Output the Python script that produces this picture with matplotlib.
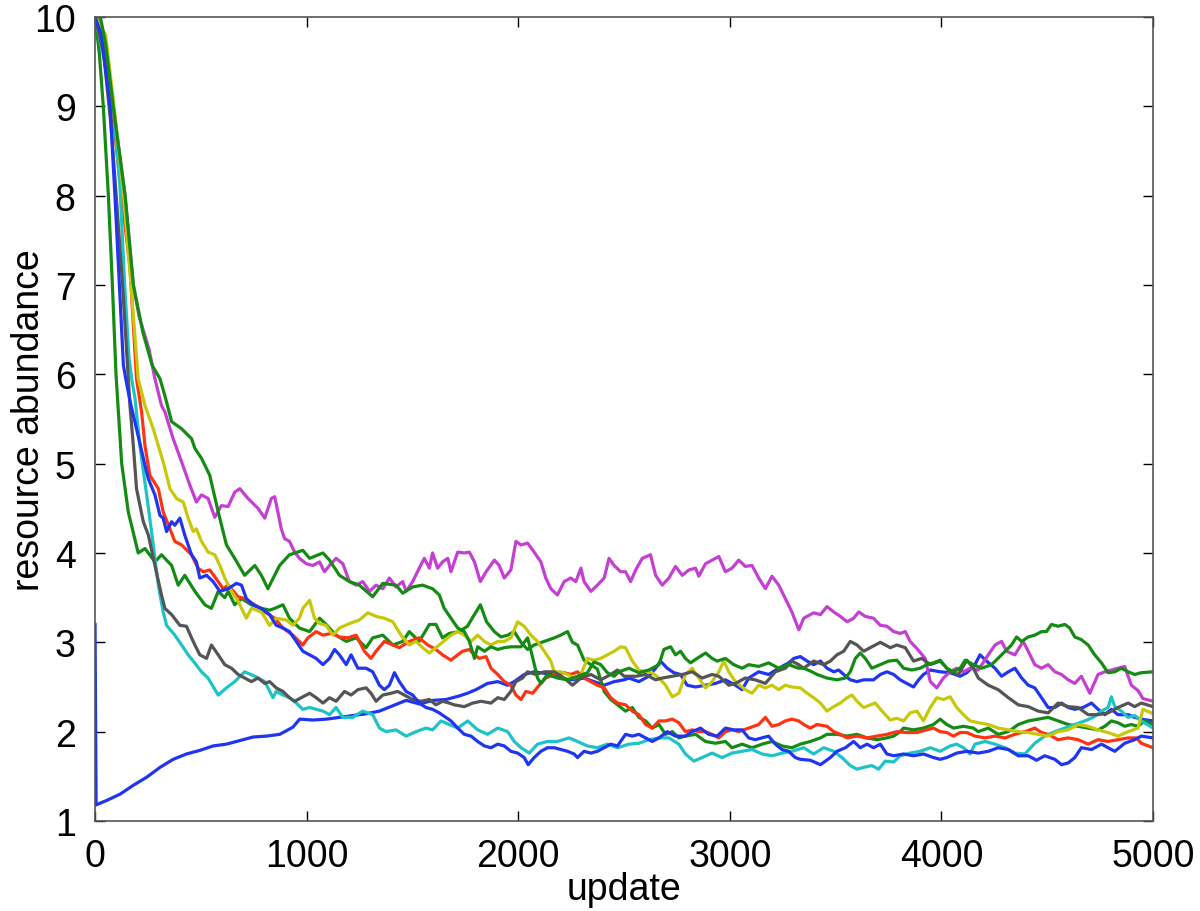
import matplotlib
matplotlib.use('Agg')
import matplotlib.pyplot as plt

# run 1 (blue, rises from the low start)
blue_a_x = [0, 5, 55, 118, 181, 244, 307, 369, 432, 495, 558, 621, 684, 747, 810, 873, 935, 967, 1030, 1093,
            1156, 1218, 1281, 1344, 1407, 1470, 1533, 1596, 1659, 1722, 1760, 1800, 1855, 1903, 1950, 1981, 2028,
            2075, 2107, 2154, 2201, 2248, 2311, 2358, 2406, 2453, 2500, 2523, 2570, 2617, 2649, 2672, 2704, 2735,
            2767, 2798, 2838, 2885, 2932, 2979, 3026, 3058, 3089, 3136, 3183, 3231, 3278, 3302, 3333, 3365, 3396,
            3428, 3459, 3491, 3514, 3538, 3569, 3601, 3632, 3679, 3711, 3742, 3774, 3805, 3836, 3868, 3892, 3915,
            3947, 3994, 4041, 4088, 4120, 4158, 4182, 4213, 4253, 4284, 4316, 4347, 4379, 4410, 4441, 4473, 4504,
            4536, 4567, 4599, 4630, 4669, 4709, 4740, 4772, 4803, 4834, 4882, 4913, 4944, 5000]
blue_a_y = [3.2, 1.18, 1.23, 1.30, 1.40, 1.49, 1.60, 1.69, 1.75, 1.79, 1.84, 1.86, 1.90, 1.94, 1.95, 1.97, 2.05, 2.14,
            2.13, 2.14, 2.16, 2.18, 2.20, 2.23, 2.29, 2.35, 2.31, 2.35, 2.36, 2.40, 2.43, 2.47, 2.54, 2.56, 2.52,
            2.56, 2.64, 2.67, 2.66, 2.64, 2.60, 2.58, 2.60, 2.56, 2.52, 2.56, 2.58, 2.60, 2.56, 2.62, 2.71, 2.79,
            2.71, 2.66, 2.64, 2.52, 2.50, 2.52, 2.54, 2.58, 2.52, 2.47, 2.60, 2.67, 2.64, 2.71, 2.77, 2.82, 2.84,
            2.79, 2.75, 2.79, 2.71, 2.67, 2.69, 2.64, 2.58, 2.56, 2.58, 2.58, 2.64, 2.67, 2.64, 2.58, 2.54, 2.50,
            2.58, 2.64, 2.69, 2.67, 2.66, 2.62, 2.66, 2.75, 2.86, 2.79, 2.71, 2.62, 2.67, 2.71, 2.60, 2.52, 2.49,
            2.38, 2.27, 2.27, 2.32, 2.27, 2.25, 2.27, 2.32, 2.25, 2.19, 2.25, 2.19, 2.19, 2.16, 2.14, 2.12]

# run 2 (green, fastest early drop)
green_a_x = [0, 20, 39, 63, 82, 99, 126, 157, 204, 236, 283, 314, 362, 393, 424, 472, 519, 550, 582, 613, 629, 660,
             692, 739, 786, 825, 849, 888, 919, 966, 1014, 1061, 1092, 1139, 1187, 1234, 1281, 1312, 1360, 1407,
             1454, 1485, 1532, 1580, 1611, 1642, 1674, 1720, 1760, 1790, 1821, 1850, 1887, 1918, 1950, 1981, 2013,
             2044, 2075, 2123, 2170, 2200, 2233, 2256, 2280, 2311, 2343, 2374, 2406, 2437, 2469, 2507, 2539, 2570,
             2602, 2633, 2665, 2696, 2728, 2759, 2790, 2838, 2885, 2932, 2979, 3010, 3058, 3105, 3152, 3199, 3246,
             3293, 3333, 3380, 3428, 3459, 3506, 3554, 3601, 3648, 3695, 3742, 3774, 3805, 3821, 3868, 3915, 3962,
             3994, 4025, 4057, 4104, 4151, 4174, 4221, 4268, 4316, 4363, 4410, 4457, 4504, 4551, 4599, 4646, 4693,
             4740, 4772, 4803, 4834, 4866, 4897, 4929, 4960, 5000]
green_a_y = [10.0, 9.6, 9.0, 8.0, 7.0, 6.0, 5.0, 4.46, 4.0, 4.05, 3.90, 3.98, 3.86, 3.64, 3.75, 3.57, 3.42, 3.38,
             3.57, 3.50, 3.57, 3.42, 3.49, 3.42, 3.38, 3.36, 3.38, 3.42, 3.27, 3.16, 3.12, 3.27, 3.20, 3.08, 3.01,
             3.05, 2.94, 3.05, 3.08, 2.97, 3.01, 3.12, 3.01, 3.20, 3.20, 3.05, 3.10, 3.12, 3.18, 3.30, 3.42, 3.23,
             3.12, 3.06, 3.08, 3.12, 3.00, 2.92, 2.97, 3.01, 3.05, 3.08, 3.12, 3.00, 2.97, 2.80, 2.75, 2.70, 2.45,
             2.36, 2.30, 2.23, 2.27, 2.16, 2.12, 2.04, 2.08, 1.97, 2.00, 1.93, 1.95, 1.97, 1.89, 1.87, 1.89, 1.82,
             1.86, 1.82, 1.86, 1.89, 1.84, 1.82, 1.86, 1.89, 1.93, 1.97, 1.97, 1.95, 1.97, 1.93, 1.91, 1.93, 1.95,
             2.00, 2.04, 2.02, 2.04, 2.08, 2.14, 2.08, 2.04, 2.06, 2.04, 2.00, 2.04, 1.97, 2.00, 2.08, 2.12, 2.14,
             2.16, 2.12, 2.08, 2.06, 2.04, 2.02, 2.06, 2.12, 2.10, 2.06, 2.08, 2.06, 2.12, 2.08]

# run 3 (red)
red_x = [0, 30, 80, 125, 165, 196, 220, 236, 259, 299, 322, 354, 377, 409, 456, 487, 511, 542, 582, 605, 629, 676,
         707, 755, 802, 849, 888, 935, 982, 1006, 1045, 1077, 1116, 1155, 1194, 1234, 1273, 1304, 1328, 1367, 1407,
         1438, 1485, 1532, 1572, 1611, 1642, 1682, 1714, 1737, 1769, 1793, 1816, 1848, 1871, 1903, 1934, 1965, 1989,
         2013, 2036, 2068, 2099, 2130, 2170, 2217, 2248, 2280, 2311, 2343, 2374, 2406, 2437, 2469, 2507, 2539, 2570,
         2602, 2633, 2665, 2696, 2728, 2759, 2790, 2822, 2853, 2885, 2916, 2948, 2979, 3010, 3042, 3089, 3136, 3168,
         3199, 3231, 3262, 3293, 3325, 3349, 3380, 3412, 3459, 3491, 3522, 3554, 3601, 3648, 3695, 3742, 3789, 3836,
         3884, 3931, 3962, 3994, 4025, 4057, 4088, 4120, 4158, 4206, 4253, 4300, 4347, 4394, 4441, 4473, 4504, 4551,
         4599, 4646, 4693, 4740, 4787, 4834, 4882, 4921, 4944, 5000]
red_y = [10.0, 9.9, 9.0, 8.0, 7.2, 5.95, 5.58, 5.20, 4.87, 4.72, 4.46, 4.27, 4.13, 4.09, 3.98, 3.83, 3.79, 3.81, 3.68,
         3.60, 3.64, 3.51, 3.49, 3.42, 3.34, 3.27, 3.16, 3.08, 2.97, 3.05, 3.12, 3.08, 3.10, 3.06, 3.05, 3.08, 2.90,
         2.82, 2.90, 3.01, 2.97, 2.94, 3.01, 3.05, 2.97, 2.92, 2.86, 2.80, 2.86, 2.90, 2.92, 2.86, 2.82, 2.84, 2.71,
         2.64, 2.56, 2.52, 2.41, 2.36, 2.45, 2.43, 2.52, 2.60, 2.64, 2.66, 2.64, 2.67, 2.60, 2.56, 2.52, 2.49, 2.38,
         2.32, 2.30, 2.23, 2.19, 2.08, 2.04, 2.12, 2.12, 2.14, 2.10, 2.00, 2.02, 2.00, 2.00, 1.97, 1.93, 2.00, 2.02,
         2.00, 2.04, 2.08, 2.16, 2.06, 2.08, 2.12, 2.14, 2.12, 2.08, 2.04, 2.08, 2.06, 2.00, 1.97, 1.93, 1.95, 1.93,
         1.95, 1.97, 2.00, 1.99, 1.99, 2.02, 2.04, 2.00, 1.99, 1.95, 1.99, 1.99, 1.95, 1.93, 1.95, 1.93, 1.97, 2.00,
         2.04, 1.99, 1.97, 1.91, 1.93, 1.91, 1.86, 1.91, 1.89, 1.91, 1.93, 1.93, 1.87, 1.82]

# run 4 (cyan)
cyan_x = [0, 45, 86, 118, 140, 160, 173, 189, 212, 244, 267, 283, 299, 322, 338, 377, 409, 440, 464, 503, 534, 582,
          621, 660, 707, 755, 802, 841, 856, 888, 919, 951, 982, 1014, 1045, 1077, 1108, 1139, 1171, 1218, 1265, 1312,
          1344, 1375, 1422, 1470, 1517, 1564, 1595, 1635, 1674, 1714, 1761, 1808, 1855, 1903, 1950, 1981, 2013, 2052,
          2091, 2138, 2185, 2240, 2280, 2327, 2374, 2421, 2469, 2523, 2570, 2617, 2665, 2712, 2759, 2790, 2830, 2869,
          2916, 2963, 3010, 3058, 3105, 3152, 3199, 3246, 3293, 3349, 3396, 3443, 3491, 3530, 3569, 3601, 3632, 3671,
          3703, 3734, 3774, 3805, 3852, 3899, 3947, 3994, 4041, 4072, 4104, 4135, 4158, 4206, 4253, 4300, 4347, 4394,
          4441, 4488, 4536, 4583, 4630, 4677, 4717, 4756, 4787, 4803, 4819, 4850, 4882, 4913, 4944, 5000]
cyan_y = [10.0, 9.5, 9.0, 8.1, 7.0, 6.2, 5.95, 5.73, 5.20, 4.65, 4.24, 3.94, 3.64, 3.34, 3.19, 3.08, 2.97, 2.86, 2.79,
          2.67, 2.60, 2.41, 2.49, 2.56, 2.67, 2.62, 2.56, 2.38, 2.45, 2.41, 2.38, 2.32, 2.25, 2.27, 2.25, 2.23, 2.19,
          2.27, 2.16, 2.16, 2.23, 2.19, 2.04, 2.00, 2.02, 1.95, 2.00, 2.04, 2.02, 2.12, 2.08, 2.04, 2.12, 2.02, 1.97,
          2.04, 2.00, 1.89, 1.82, 1.76, 1.86, 1.89, 1.89, 1.93, 1.89, 1.84, 1.82, 1.86, 1.82, 1.86, 1.87, 1.91, 1.93,
          1.93, 1.86, 1.75, 1.67, 1.71, 1.76, 1.71, 1.76, 1.78, 1.80, 1.75, 1.73, 1.76, 1.78, 1.82, 1.75, 1.82, 1.78,
          1.71, 1.62, 1.58, 1.60, 1.62, 1.58, 1.67, 1.66, 1.73, 1.76, 1.78, 1.82, 1.78, 1.84, 1.86, 1.82, 1.75, 1.86,
          1.89, 1.86, 1.82, 1.76, 1.75, 1.87, 1.95, 2.00, 2.04, 2.08, 2.12, 2.16, 2.23, 2.27, 2.39, 2.28, 2.23, 2.16,
          2.18, 2.12, 2.04]

# run 5 (magenta)
magenta_x = [0, 30, 86, 142, 181, 208, 255, 283, 314, 330, 369, 409, 448, 479, 503, 534, 566, 597, 629, 660, 684, 723,
             770, 802, 833, 849, 864, 880, 896, 919, 943, 966, 998, 1029, 1061, 1084, 1108, 1139, 1171, 1202, 1234,
             1265, 1297, 1328, 1360, 1391, 1422, 1454, 1470, 1501, 1532, 1556, 1580, 1595, 1619, 1642, 1667, 1682,
             1714, 1745, 1769, 1793, 1821, 1848, 1887, 1910, 1934, 1965, 1989, 2013, 2044, 2075, 2107, 2130, 2154,
             2185, 2217, 2248, 2272, 2296, 2311, 2343, 2374, 2406, 2429, 2453, 2484, 2507, 2531, 2555, 2586, 2625,
             2649, 2680, 2712, 2743, 2775, 2806, 2838, 2853, 2885, 2916, 2948, 2979, 3010, 3042, 3073, 3105, 3136,
             3168, 3199, 3231, 3262, 3293, 3326, 3349, 3396, 3428, 3459, 3491, 3522, 3554, 3585, 3609, 3640, 3679,
             3711, 3742, 3774, 3805, 3829, 3852, 3884, 3923, 3947, 3978, 4009, 4041, 4072, 4104, 4135, 4174, 4221,
             4253, 4284, 4308, 4347, 4386, 4410, 4441, 4473, 4504, 4536, 4567, 4599, 4630, 4661, 4701, 4740, 4772,
             4803, 4834, 4866, 4897, 4929, 4952, 5000]
magenta_y = [10.0, 9.9, 9.0, 8.0, 7.0, 6.65, 6.28, 5.95, 5.65, 5.58, 5.28, 5.02, 4.76, 4.57, 4.65, 4.61, 4.40, 4.53,
             4.52, 4.68, 4.72, 4.61, 4.50, 4.39, 4.61, 4.63, 4.46, 4.27, 4.16, 4.13, 4.01, 3.94, 3.88, 3.86, 3.90, 3.79,
             3.86, 3.94, 3.88, 3.68, 3.64, 3.68, 3.57, 3.64, 3.60, 3.72, 3.62, 3.68, 3.57, 3.68, 3.83, 3.94, 3.83, 4.00,
             3.83, 3.90, 3.94, 3.79, 4.01, 4.00, 4.01, 3.90, 3.68, 3.79, 3.92, 3.86, 3.72, 3.81, 4.13, 4.09, 4.11, 4.01,
             3.90, 3.72, 3.60, 3.53, 3.68, 3.72, 3.68, 3.83, 3.68, 3.57, 3.64, 3.72, 3.94, 3.86, 3.79, 3.79, 3.68, 3.81,
             3.94, 3.98, 3.75, 3.64, 3.72, 3.85, 3.75, 3.81, 3.83, 3.74, 3.88, 3.92, 3.96, 3.79, 3.83, 3.92, 3.85, 3.86,
             3.72, 3.60, 3.74, 3.64, 3.49, 3.34, 3.14, 3.27, 3.33, 3.31, 3.40, 3.34, 3.29, 3.23, 3.27, 3.34, 3.29, 3.27,
             3.19, 3.18, 3.12, 3.10, 3.12, 3.01, 2.93, 2.82, 2.56, 2.49, 2.60, 2.67, 2.71, 2.67, 2.71, 2.69, 2.86, 2.97,
             3.01, 2.90, 2.86, 3.01, 2.90, 2.75, 2.71, 2.75, 2.67, 2.64, 2.58, 2.54, 2.62, 2.43, 2.64, 2.67, 2.69, 2.71,
             2.73, 2.52, 2.46, 2.37, 2.34]

# run 6 (yellow)
yellow_x = [0, 50, 90, 135, 170, 204, 236, 275, 322, 354, 385, 417, 440, 464, 479, 503, 534, 566, 590, 613, 645, 676,
            715, 739, 786, 825, 856, 904, 935, 966, 982, 1014, 1037, 1061, 1092, 1124, 1155, 1202, 1249, 1289, 1328,
            1367, 1407, 1446, 1485, 1517, 1548, 1580, 1611, 1642, 1682, 1714, 1745, 1777, 1808, 1840, 1871, 1903, 1934,
            1965, 1997, 2028, 2060, 2091, 2123, 2154, 2170, 2201, 2233, 2264, 2296, 2327, 2358, 2390, 2421, 2453, 2484,
            2507, 2539, 2570, 2602, 2633, 2665, 2696, 2728, 2759, 2790, 2822, 2853, 2885, 2916, 2948, 2971, 2995, 3026,
            3073, 3105, 3136, 3168, 3199, 3231, 3262, 3293, 3333, 3365, 3396, 3428, 3459, 3491, 3522, 3554, 3577, 3601,
            3632, 3664, 3687, 3719, 3758, 3789, 3821, 3852, 3884, 3915, 3947, 3978, 4009, 4041, 4072, 4104, 4135, 4174,
            4221, 4268, 4316, 4363, 4410, 4457, 4504, 4551, 4599, 4646, 4693, 4740, 4787, 4834, 4882, 4929, 4952, 5000]
yellow_y = [10.0, 9.8, 9.0, 8.0, 7.0, 5.95, 5.65, 5.39, 5.02, 4.72, 4.61, 4.57, 4.39, 4.24, 4.27, 4.13, 4.01, 3.98, 3.86,
            3.72, 3.57, 3.46, 3.27, 3.38, 3.34, 3.19, 3.27, 3.25, 3.19, 3.27, 3.38, 3.47, 3.27, 3.21, 3.19, 3.08, 3.16,
            3.21, 3.25, 3.33, 3.29, 3.27, 3.23, 3.08, 2.97, 3.01, 2.94, 2.88, 2.94, 3.00, 3.08, 3.12, 3.08, 3.01, 3.08,
            3.01, 2.97, 3.01, 3.01, 3.05, 3.23, 3.18, 3.08, 3.01, 2.90, 2.79, 2.67, 2.67, 2.64, 2.60, 2.64, 2.82, 2.80,
            2.82, 2.86, 2.90, 2.95, 2.94, 2.79, 2.69, 2.67, 2.66, 2.60, 2.52, 2.39, 2.43, 2.64, 2.71, 2.60, 2.49, 2.56,
            2.67, 2.79, 2.67, 2.56, 2.47, 2.43, 2.52, 2.49, 2.52, 2.47, 2.52, 2.50, 2.49, 2.43, 2.38, 2.32, 2.23, 2.28,
            2.32, 2.38, 2.41, 2.34, 2.27, 2.30, 2.32, 2.23, 2.13, 2.15, 2.12, 2.21, 2.23, 2.12, 2.27, 2.38, 2.36, 2.39,
            2.27, 2.19, 2.12, 2.10, 2.08, 2.04, 2.02, 2.00, 1.99, 1.97, 1.95, 2.00, 2.02, 2.08, 2.06, 2.02, 1.99, 1.95,
            2.00, 2.04, 2.25, 2.20]

# run 7 (dark grey)
grey_x = [0, 40, 75, 100, 130, 157, 165, 181, 196, 228, 252, 283, 314, 330, 362, 401, 432, 456, 472, 495, 527, 550,
          582, 613, 645, 676, 707, 739, 770, 802, 825, 856, 888, 919, 943, 982, 1014, 1045, 1077, 1108, 1139, 1179,
          1210, 1242, 1281, 1304, 1328, 1360, 1399, 1430, 1462, 1501, 1540, 1580, 1611, 1642, 1674, 1698, 1745, 1785,
          1824, 1871, 1903, 1934, 1965, 1989, 2020, 2044, 2083, 2123, 2170, 2217, 2256, 2296, 2343, 2390, 2437, 2469,
          2500, 2555, 2602, 2649, 2680, 2728, 2775, 2822, 2869, 2916, 2948, 2995, 3026, 3073, 3120, 3168, 3215, 3262,
          3293, 3325, 3349, 3396, 3443, 3475, 3506, 3538, 3569, 3601, 3632, 3664, 3711, 3758, 3789, 3829, 3868, 3907,
          3947, 3994, 4041, 4080, 4120, 4151, 4174, 4221, 4268, 4316, 4363, 4410, 4457, 4504, 4551, 4599, 4646, 4693,
          4740, 4787, 4834, 4882, 4913, 4944, 5000]
grey_y = [10.0, 9.6, 8.8, 8.0, 7.0, 5.95, 5.65, 5.20, 4.72, 4.35, 4.20, 3.86, 3.53, 3.38, 3.31, 3.19, 3.18, 3.05, 2.97,
          2.86, 2.82, 2.97, 2.86, 2.75, 2.71, 2.64, 2.60, 2.56, 2.60, 2.54, 2.56, 2.49, 2.45, 2.38, 2.34, 2.39, 2.43,
          2.38, 2.32, 2.38, 2.34, 2.45, 2.41, 2.47, 2.49, 2.43, 2.34, 2.41, 2.43, 2.45, 2.41, 2.36, 2.34, 2.36, 2.30,
          2.34, 2.32, 2.30, 2.28, 2.32, 2.34, 2.32, 2.38, 2.36, 2.45, 2.56, 2.60, 2.67, 2.64, 2.67, 2.67, 2.60, 2.52,
          2.60, 2.64, 2.58, 2.64, 2.69, 2.62, 2.62, 2.64, 2.58, 2.60, 2.62, 2.64, 2.67, 2.60, 2.64, 2.62, 2.52, 2.54,
          2.60, 2.58, 2.54, 2.67, 2.71, 2.79, 2.75, 2.71, 2.79, 2.75, 2.79, 2.86, 2.90, 3.01, 2.97, 2.90, 2.94, 3.00,
          2.94, 2.97, 2.94, 2.79, 2.82, 2.75, 2.79, 2.67, 2.64, 2.80, 2.71, 2.60, 2.52, 2.47, 2.38, 2.30, 2.28, 2.23,
          2.21, 2.32, 2.28, 2.27, 2.19, 2.19, 2.21, 2.27, 2.32, 2.28, 2.32, 2.28]

# run 8 (blue, drops from 10)
blue_b_x = [0, 30, 71, 94, 115, 134, 149, 170, 196, 236, 252, 283, 307, 322, 338, 362, 377, 401, 424, 456, 479, 495,
            527, 558, 590, 629, 668, 692, 715, 747, 786, 825, 856, 888, 919, 951, 982, 1014, 1045, 1077, 1108, 1132,
            1155, 1187, 1210, 1242, 1281, 1312, 1344, 1367, 1391, 1415, 1438, 1470, 1501, 1532, 1564, 1595, 1627, 1658,
            1682, 1714, 1745, 1777, 1808, 1840, 1871, 1903, 1934, 1965, 1997, 2028, 2047, 2075, 2107, 2138, 2170, 2201,
            2233, 2264, 2280, 2311, 2343, 2374, 2406, 2437, 2469, 2507, 2539, 2570, 2602, 2633, 2665, 2704, 2743, 2790,
            2822, 2861, 2900, 2940, 2979, 3018, 3058, 3089, 3120, 3152, 3183, 3215, 3246, 3278, 3309, 3333, 3380, 3428,
            3475, 3506, 3546, 3585, 3616, 3648, 3679, 3711, 3742, 3774, 3821, 3868, 3915, 3962, 3994, 4025, 4072, 4120,
            4174, 4221, 4268, 4316, 4363, 4410, 4449, 4488, 4536, 4567, 4599, 4630, 4661, 4709, 4756, 4787, 4819, 4866,
            4913, 4944, 5000]
blue_b_y = [10.0, 9.8, 9.0, 8.0, 7.0, 6.1, 5.9, 5.65, 5.39, 4.98, 4.83, 4.65, 4.42, 4.39, 4.24, 4.35, 4.31, 4.39, 4.20,
            3.98, 3.90, 3.72, 3.75, 3.68, 3.57, 3.60, 3.66, 3.64, 3.49, 3.42, 3.38, 3.31, 3.19, 3.16, 3.12, 3.01, 2.90,
            2.86, 2.82, 2.75, 2.82, 2.92, 2.86, 2.75, 2.86, 2.71, 2.71, 2.67, 2.52, 2.47, 2.52, 2.66, 2.56, 2.45, 2.41,
            2.32, 2.27, 2.25, 2.21, 2.16, 2.12, 2.04, 1.97, 1.95, 1.89, 1.84, 1.82, 1.86, 1.84, 1.78, 1.76, 1.71, 1.63,
            1.71, 1.78, 1.82, 1.82, 1.80, 1.78, 1.75, 1.71, 1.78, 1.76, 1.78, 1.82, 1.86, 1.84, 1.97, 1.95, 1.97, 1.93,
            1.89, 1.93, 2.00, 1.95, 1.95, 2.00, 2.04, 1.97, 1.95, 2.04, 2.02, 2.02, 1.93, 1.91, 1.93, 1.95, 1.86, 1.80,
            1.78, 1.71, 1.69, 1.68, 1.63, 1.71, 1.78, 1.82, 1.89, 1.82, 1.86, 1.82, 1.86, 1.75, 1.73, 1.75, 1.73, 1.75,
            1.71, 1.69, 1.71, 1.76, 1.78, 1.76, 1.78, 1.82, 1.80, 1.73, 1.73, 1.68, 1.73, 1.69, 1.63, 1.65, 1.71, 1.82,
            1.80, 1.86, 1.82, 1.78, 1.87, 1.91, 1.95, 1.93]

# run 9 (green, slow early drop, late bump)
green_b_x = [0, 25, 50, 86, 142, 181, 226, 270, 307, 330, 362, 409, 456, 472, 503, 542, 582, 621, 660, 707, 755, 786,
             817, 872, 919, 982, 1014, 1077, 1108, 1155, 1202, 1249, 1312, 1360, 1422, 1454, 1501, 1548, 1595, 1627,
             1650, 1682, 1714, 1745, 1769, 1793, 1808, 1840, 1871, 1903, 1934, 1965, 2013, 2044, 2065, 2091, 2107,
             2138, 2185, 2233, 2280, 2327, 2358, 2390, 2421, 2453, 2476, 2523, 2570, 2617, 2665, 2688, 2720, 2743,
             2767, 2790, 2814, 2845, 2885, 2916, 2940, 2979, 3018, 3058, 3089, 3136, 3183, 3231, 3278, 3325, 3349,
             3388, 3412, 3459, 3506, 3546, 3569, 3593, 3616, 3640, 3671, 3711, 3750, 3789, 3821, 3860, 3899, 3931,
             3962, 3994, 4025, 4057, 4088, 4112, 4151, 4190, 4237, 4284, 4331, 4355, 4379, 4410, 4441, 4473, 4496,
             4520, 4551, 4583, 4606, 4630, 4661, 4693, 4724, 4756, 4787, 4819, 4850, 4882, 4913, 4944, 5000]
green_b_y = [10.0, 10.0, 9.7, 9.0, 8.0, 7.0, 6.47, 6.1, 5.95, 5.76, 5.47, 5.39, 5.28, 5.17, 5.06, 4.87, 4.46, 4.09,
             3.94, 3.75, 3.86, 3.75, 3.60, 3.86, 3.98, 4.03, 3.94, 4.00, 3.92, 3.75, 3.68, 3.64, 3.51, 3.66, 3.64, 3.55,
             3.62, 3.64, 3.60, 3.53, 3.38, 3.27, 3.16, 3.12, 3.01, 2.82, 2.95, 2.90, 2.95, 2.92, 2.94, 2.95, 2.95, 3.05,
             2.86, 2.60, 2.54, 2.64, 2.60, 2.58, 2.62, 2.66, 2.78, 2.75, 2.66, 2.62, 2.67, 2.71, 2.66, 2.69, 2.75, 2.92,
             2.95, 2.86, 2.90, 2.82, 2.77, 2.82, 2.88, 2.82, 2.79, 2.82, 2.75, 2.71, 2.75, 2.73, 2.77, 2.71, 2.75, 2.71,
             2.71, 2.67, 2.64, 2.60, 2.58, 2.60, 2.67, 2.82, 2.88, 2.82, 2.71, 2.75, 2.79, 2.80, 2.71, 2.69, 2.71, 2.75,
             2.77, 2.80, 2.71, 2.67, 2.71, 2.80, 2.75, 2.71, 2.75, 2.86, 2.97, 3.06, 3.01, 3.06, 3.08, 3.12, 3.12, 3.20,
             3.18, 3.20, 3.16, 3.06, 3.03, 2.97, 2.86, 2.77, 2.66, 2.67, 2.71, 2.67, 2.64, 2.66, 2.67]

runs = [
    (blue_a_x, blue_a_y, '#1f35f0'),
    (green_a_x, green_a_y, '#148c14'),
    (red_x, red_y, '#ff3312'),
    (cyan_x, cyan_y, '#1ec3c8'),
    (magenta_x, magenta_y, '#c43fd2'),
    (yellow_x, yellow_y, '#c8c80a'),
    (grey_x, grey_y, '#555555'),
    (blue_b_x, blue_b_y, '#1f35f0'),
    (green_b_x, green_b_y, '#148c14'),
]


def main():
    plt.rcParams['font.family'] = ['Liberation Sans', 'DejaVu Sans']
    fig = plt.figure(figsize=(12, 9.12), dpi=100)
    ax = fig.add_axes([0.0792, 0.0987, 0.8817, 0.8816])

    for xs, ys, c in runs:
        ax.plot(xs, ys, color=c, linewidth=2.3)

    ax.set_xlim(0, 5000)
    ax.set_ylim(1, 10)
    ax.set_xticks(range(0, 5001, 1000))
    ax.set_yticks(range(1, 11))
    ax.tick_params(direction='in', length=7, width=1, top=True, right=True,
                   labelsize=27, colors='black')
    ax.tick_params(axis='x', pad=12)
    ax.tick_params(axis='y', pad=14)
    for s in ax.spines.values():
        s.set_color('#555555')
        s.set_linewidth(1.2)

    ax.set_xlabel('update', fontsize=27, labelpad=-2)
    ax.set_ylabel('resource abundance', fontsize=27)
    ax.yaxis.set_label_coords(-0.045, 0.5)

    fig.savefig('out.png', dpi=100)


if __name__ == '__main__':
    main()
